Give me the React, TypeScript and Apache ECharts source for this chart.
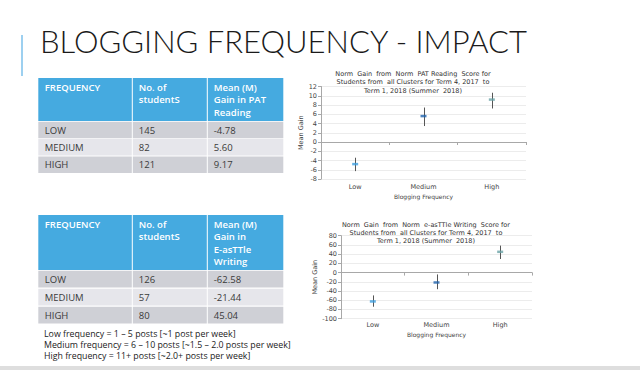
import React, { useEffect, useRef } from 'react';
import * as echarts from 'echarts';

// ---------- data ----------
const slideTitle = 'BLOGGING FREQUENCY - IMPACT';
const categories = ['Low', 'Medium', 'High'];

const readingTitle = 'Norm  Gain  from  Norm  PAT Reading  Score for\nStudents from  all Clusters for Term 4, 2017  to\nTerm 1, 2018 (Summer  2018)';
const readingMean = [-4.78, 5.6, 9.17];
const readingLower = [-6.3, 3.45, 7.25];
const readingUpper = [-3.4, 7.45, 10.65];
const readingMin = -8;
const readingMax = 12;
const readingStep = 2;

const writingTitle = 'Norm  Gain  from  Norm  e-asTTle Writing  Score for\nStudents from  all Clusters for Term 4, 2017  to\nTerm 1, 2018 (Summer  2018)';
const writingMean = [-62.58, -21.44, 45.04];
const writingLower = [-74, -36, 29.5];
const writingUpper = [-49.5, -4, 58.5];
const writingMin = -100;
const writingMax = 80;
const writingStep = 20;

const markerColors = ['#3d9fe0', '#2064ae', '#6aa3a6'];

const freqLabels = ['LOW', 'MEDIUM', 'HIGH'];
const readingCounts = ['145', '82', '121'];
const readingGains = ['-4.78', '5.60', '9.17'];
const writingCounts = ['126', '57', '80'];
const writingGains = ['-62.58', '-21.44', '45.04'];
const readingHeaders = [['FREQUENCY'], ['No. of', 'studentS'], ['Mean (M)', 'Gain in PAT', 'Reading']];
const writingHeaders = [['FREQUENCY'], ['No. of', 'studentS'], ['Mean (M)', 'Gain in', 'E-asTTle', 'Writing']];
const footnotes = [
  'Low frequency = 1 – 5 posts [~1 post per week]',
  'Medium frequency = 6 – 10 posts [~1.5 – 2.0 posts per week]',
  'High frequency = 11+ posts [~2.0+ posts per week]',
];

// ---------- helpers ----------
const CHART_FONT = 'DejaVu Sans';
const SLIDE_FONT = 'Open Sans';
const colX = [38.3, 132.3, 207.3, 283.3];

function txt(x: number, y: number, text: string, opts: any = {}) {
  return {
    type: 'text',
    x,
    y,
    silent: true,
    style: {
      text,
      fill: opts.fill || '#3a3a3a',
      fontSize: opts.fontSize || 9.5,
      fontFamily: opts.fontFamily || SLIDE_FONT,
      fontWeight: opts.fontWeight || 'normal',
      textAlign: opts.align || 'left',
      align: opts.align || 'left',
      textVerticalAlign: 'middle',
      verticalAlign: 'middle',
    },
  };
}

function table(top: number, headerH: number, rowStart: number, rowPitch: number, rowH: number, headers: string[][], counts: string[], gains: string[]) {
  const els: any[] = [];
  for (let c = 0; c < 3; c++) {
    const x0 = colX[c] + (c === 0 ? 0 : 0.5);
    const x1 = colX[c + 1] - (c === 2 ? 0 : 0.5);
    els.push({ type: 'rect', silent: true, shape: { x: x0, y: top, width: x1 - x0, height: headerH }, style: { fill: '#45aae0' } });
    headers[c].forEach((line, i) => {
      els.push(txt(colX[c] + 6.5, top + 9.5 + i * 12.4, line, { fill: '#ffffff', fontWeight: 600 }));
    });
    for (let r = 0; r < 3; r++) {
      const y = rowStart + r * rowPitch;
      els.push({ type: 'rect', silent: true, shape: { x: x0, y, width: x1 - x0, height: rowH }, style: { fill: r === 1 ? '#e6e6eb' : '#cfd0d6' } });
      const val = c === 0 ? freqLabels[r] : c === 1 ? counts[r] : gains[r];
      els.push(txt(colX[c] + 6.5, y + rowH / 2, val, { fill: '#3a3a3a' }));
    }
  }
  return els;
}

function xAxisCfg(gridIndex: number, labelMargin: number, nameGap: number) {
  return {
    type: 'category',
    gridIndex,
    data: categories,
    boundaryGap: true,
    axisLine: { show: true, lineStyle: { color: '#a8a8a8', width: 1 } },
    axisTick: { show: true, length: 3, lineStyle: { color: '#a8a8a8' } },
    axisLabel: { fontSize: 6.5, color: '#444', margin: labelMargin, fontFamily: CHART_FONT },
    splitLine: { show: false },
    name: 'Blogging Frequency',
    nameLocation: 'middle',
    nameGap,
    nameTextStyle: { fontSize: 6, color: '#444', fontFamily: CHART_FONT },
  };
}

function yAxisCfg(gridIndex: number, min: number, max: number, interval: number, nameGap: number) {
  return {
    type: 'value',
    gridIndex,
    min,
    max,
    interval,
    axisLine: { show: true, lineStyle: { color: '#a8a8a8', width: 1 } },
    axisTick: { show: true, length: 3, lineStyle: { color: '#a8a8a8' } },
    axisLabel: { fontSize: 6.5, color: '#444', margin: 4, fontFamily: CHART_FONT },
    splitLine: { show: true, lineStyle: { color: '#ececec', width: 1 } },
    name: 'Mean Gain',
    nameLocation: 'middle',
    nameGap,
    nameTextStyle: { fontSize: 6.5, color: '#444', fontFamily: CHART_FONT },
  };
}

function errorSeries(idx: number, lower: number[], upper: number[]) {
  return {
    type: 'custom',
    xAxisIndex: idx,
    yAxisIndex: idx,
    data: lower.map((lo, i) => [i, lo, upper[i]]),
    encode: { x: 0, y: [1, 2] },
    z: 2,
    renderItem: (params: any, api: any) => {
      const x = api.value(0);
      const p1 = api.coord([x, api.value(1)]);
      const p2 = api.coord([x, api.value(2)]);
      const cx = Math.round(p1[0]) + 0.5;
      return {
        type: 'line',
        shape: { x1: cx, y1: p1[1], x2: cx, y2: p2[1] },
        style: { stroke: '#555555', lineWidth: 1 },
      };
    },
  };
}

function markerSeries(idx: number, means: number[]) {
  return {
    type: 'scatter',
    xAxisIndex: idx,
    yAxisIndex: idx,
    symbol: 'rect',
    symbolSize: [6, 2.5],
    z: 3,
    data: means.map((v, i) => ({ value: [i, v], itemStyle: { color: markerColors[i] } })),
  };
}

export default function App() {
  const ref = useRef<HTMLDivElement>(null);
  useEffect(() => {
    if (!ref.current) return;
    const chart = echarts.init(ref.current, null, { renderer: 'svg' });
    const graphics: any[] = [
      { type: 'rect', silent: true, shape: { x: 0, y: 0, width: 640, height: 370 }, style: { fill: '#ffffff' }, z: -10 },
      { type: 'rect', silent: true, shape: { x: 21, y: 35, width: 2, height: 41 }, style: { fill: '#9dd0f0' } },
      txt(40, 41, slideTitle, { fontSize: 31, fontFamily: 'Lato', fontWeight: 300, fill: '#1a1a1a' }),
      ...table(78, 43, 121.8, 17.3, 16.5, readingHeaders, readingCounts, readingGains),
      ...table(215, 55, 270.8, 18, 16.6, writingHeaders, writingCounts, writingGains),
      ...footnotes.map((f, i) => txt(44, 334 + i * 11, f, { fontSize: 8.8, fill: '#222' })),
      { type: 'rect', silent: true, shape: { x: 0, y: 366, width: 640, height: 4 }, style: { fill: '#dedede' } },
    ];
    chart.setOption({
      animation: false,
      backgroundColor: '#ffffff',
      title: [
        {
          text: readingTitle,
          left: 413,
          top: 69.6,
          textAlign: 'center',
          padding: 0,
          textStyle: { fontSize: 6.5, lineHeight: 8.6, fontWeight: 'normal', color: '#333', fontFamily: CHART_FONT },
        },
        {
          text: writingTitle,
          left: 426,
          top: 220.6,
          textAlign: 'center',
          padding: 0,
          textStyle: { fontSize: 6.5, lineHeight: 8.3, fontWeight: 'normal', color: '#333', fontFamily: CHART_FONT },
        },
      ],
      grid: [
        { left: 321, top: 86.5, width: 205, height: 92.5, containLabel: false },
        { left: 341, top: 235.7, width: 191, height: 83, containLabel: false },
      ],
      xAxis: [xAxisCfg(0, 4, 14), xAxisCfg(1, 3, 13)],
      yAxis: [
        yAxisCfg(0, readingMin, readingMax, readingStep, 14),
        yAxisCfg(1, writingMin, writingMax, writingStep, 16),
      ],
      series: [
        errorSeries(0, readingLower, readingUpper),
        markerSeries(0, readingMean),
        errorSeries(1, writingLower, writingUpper),
        markerSeries(1, writingMean),
      ],
      graphic: { elements: graphics },
    });
    return () => chart.dispose();
  }, []);
  return <div ref={ref} style={{ position: 'fixed', left: 0, top: 0, width: 640, height: 370 }} />;
}
